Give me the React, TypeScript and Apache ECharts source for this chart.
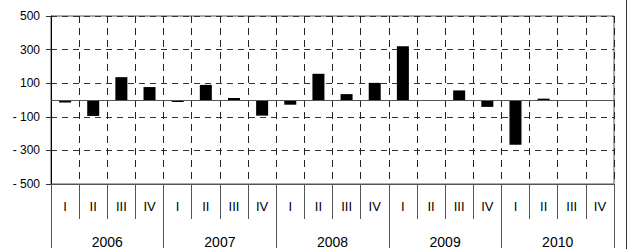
import React, { useEffect, useRef } from "react";
import * as echarts from "echarts";

const years = ["2006", "2007", "2008", "2009", "2010"];
const quarterNames = ["I", "II", "III", "IV"];
const categories = years.flatMap((y) => quarterNames.map((q) => `${q}|${y}`));
const values2006 = [-15, -95, 136, 77];
const values2007 = [-12, 90, 12, -93];
const values2008 = [-28, 156, 35, 102];
const values2009 = [320, -5, 57, -41];
const values2010: (number | null)[] = [-266, 8, null, null];
const values = [...values2006, ...values2007, ...values2008, ...values2009, ...values2010];
const yTicks = { min: -500, max: 500, interval: 200 };
const yTickValues = [500, 300, 100, -100, -300, -500];

const fmtY = (v: number) => (v < 0 ? `- ${Math.abs(v)}` : `${v}`);

export default function App() {
  const ref = useRef<HTMLDivElement>(null);
  useEffect(() => {
    if (!ref.current) return;
    const chart = echarts.init(ref.current, undefined, { renderer: "svg" });
    const font = "Liberation Sans";
    const gridTop = 16;
    const gridBottom = 64;
    chart.setOption({
      animation: false,
      backgroundColor: "#fff",
      grid: {
        left: 51,
        top: gridTop,
        right: 14,
        bottom: gridBottom,
        containLabel: false,
        show: true,
        borderColor: "#555",
        borderWidth: 1,
        backgroundColor: "transparent",
      },
      xAxis: [
        {
          type: "category",
          data: categories,
          position: "bottom",
          axisLine: { show: true, onZero: false, lineStyle: { color: "#555", width: 1 } },
          axisTick: { show: true, interval: 0, length: 35, inside: false, lineStyle: { color: "#555" } },
          axisLabel: {
            interval: 0,
            margin: 16,
            fontFamily: font,
            fontSize: 13,
            color: "#000",
            formatter: (v: string) => v.split("|")[0],
          },
          splitLine: {
            show: true,
            interval: 0,
            lineStyle: { color: "#222", type: [7, 5], width: 1 },
          },
        },
        {
          type: "category",
          data: years,
          position: "bottom",
          axisLine: { show: false, onZero: false },
          axisTick: { show: true, interval: 0, length: 64, lineStyle: { color: "#555" } },
          axisLabel: {
            interval: 0,
            margin: 51,
            fontFamily: font,
            fontSize: 14,
            color: "#000",
          },
          splitLine: { show: false },
        },
      ],
      yAxis: {
        type: "value",
        min: yTicks.min,
        max: yTicks.max,
        interval: yTicks.interval,
        axisLine: { show: true, lineStyle: { color: "#000", width: 1 } },
        axisTick: { show: true, length: 5, inside: false, lineStyle: { color: "#333" } },
        axisLabel: { show: false },
        splitLine: {
          show: true,
          lineStyle: { color: "#333", type: [6, 5], width: 1 },
        },
      },
      series: [
        {
          type: "bar",
          xAxisIndex: 0,
          data: values,
          barWidth: 12,
          itemStyle: { color: "#000" },
          markLine: {
            silent: true,
            symbol: "none",
            label: { show: false },
            lineStyle: { color: "#555", type: "solid", width: 1 },
            data: [{ yAxis: 0 }],
          },
        },
      ],
    });
    const plotH = 249 - gridTop - gridBottom;
    const labels = yTickValues.map((v) => {
      let py = chart.convertToPixel({ yAxisIndex: 0 }, v) as unknown as number;
      if (typeof py !== "number" || !isFinite(py)) {
        py = gridTop + ((yTicks.max - v) / (yTicks.max - yTicks.min)) * plotH;
      }
      return {
        type: "text",
        x: 40,
        y: py,
        silent: true,
        style: {
          text: fmtY(v),
          fill: "#000",
          font: `12px ${font}`,
          textAlign: "right",
          textVerticalAlign: "middle",
        },
      };
    });
    chart.setOption({
      graphic: [
        ...labels,
        {
          type: "line",
          shape: { x1: 626.5, y1: 0, x2: 626.5, y2: 249 },
          style: { stroke: "#333", lineWidth: 1 },
        },
      ],
    });
    return () => chart.dispose();
  }, []);
  return (
    <div
      ref={ref}
      style={{ position: "fixed", left: 0, top: 0, width: 628, height: 249 }}
    />
  );
}
